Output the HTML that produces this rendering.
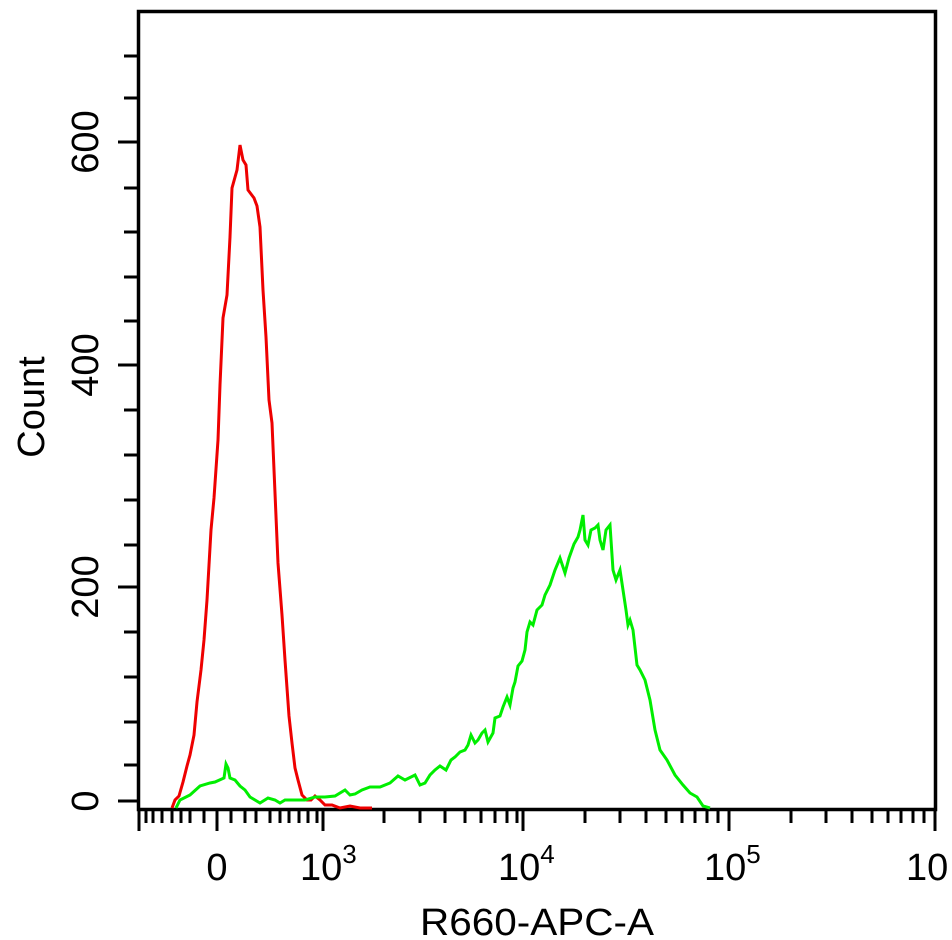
<!DOCTYPE html>
<html><head><meta charset="utf-8"><style>
html,body{margin:0;padding:0;background:#fff;width:952px;height:940px;overflow:hidden}
svg{display:block}
text{font-family:"Liberation Sans",sans-serif;fill:#000}
</style></head><body>
<svg width="952" height="940" viewBox="0 0 952 940" xmlns="http://www.w3.org/2000/svg">
<rect width="952" height="940" fill="#fff"/>
<path d="M138.5,11.5 H935.5 V809.5 H138.5 Z" fill="none" stroke="#000" stroke-width="3.5"/>
<g stroke="#000" stroke-width="3">
<line x1="118" y1="801" x2="138" y2="801"/>
<line x1="124" y1="765" x2="138" y2="765"/>
<line x1="124" y1="722" x2="138" y2="722"/>
<line x1="124" y1="677" x2="138" y2="677"/>
<line x1="124" y1="632" x2="138" y2="632"/>
<line x1="118" y1="587" x2="138" y2="587"/>
<line x1="124" y1="545" x2="138" y2="545"/>
<line x1="124" y1="500" x2="138" y2="500"/>
<line x1="124" y1="455" x2="138" y2="455"/>
<line x1="124" y1="410" x2="138" y2="410"/>
<line x1="118" y1="365" x2="138" y2="365"/>
<line x1="124" y1="321" x2="138" y2="321"/>
<line x1="124" y1="277" x2="138" y2="277"/>
<line x1="124" y1="232" x2="138" y2="232"/>
<line x1="124" y1="188" x2="138" y2="188"/>
<line x1="118" y1="142" x2="138" y2="142"/>
<line x1="124" y1="98" x2="138" y2="98"/>
<line x1="124" y1="56" x2="138" y2="56"/>
</g>
<g stroke="#000" stroke-width="3">
<line x1="139" y1="810" x2="139" y2="831"/>
<line x1="146" y1="810" x2="146" y2="823"/>
<line x1="153" y1="810" x2="153" y2="823"/>
<line x1="162" y1="810" x2="162" y2="823"/>
<line x1="172" y1="810" x2="172" y2="823"/>
<line x1="181" y1="810" x2="181" y2="823"/>
<line x1="190" y1="810" x2="190" y2="823"/>
<line x1="204" y1="810" x2="204" y2="823"/>
<line x1="217" y1="810" x2="217" y2="831"/>
<line x1="231" y1="810" x2="231" y2="823"/>
<line x1="245" y1="810" x2="245" y2="823"/>
<line x1="256" y1="810" x2="256" y2="823"/>
<line x1="270" y1="810" x2="270" y2="823"/>
<line x1="280" y1="810" x2="280" y2="823"/>
<line x1="289" y1="810" x2="289" y2="823"/>
<line x1="299" y1="810" x2="299" y2="823"/>
<line x1="308" y1="810" x2="308" y2="823"/>
<line x1="317" y1="810" x2="317" y2="823"/>
<line x1="323" y1="810" x2="323" y2="831"/>
<line x1="384" y1="810" x2="384" y2="823"/>
<line x1="420" y1="810" x2="420" y2="823"/>
<line x1="445" y1="810" x2="445" y2="823"/>
<line x1="465" y1="810" x2="465" y2="823"/>
<line x1="481" y1="810" x2="481" y2="823"/>
<line x1="495" y1="810" x2="495" y2="823"/>
<line x1="507" y1="810" x2="507" y2="823"/>
<line x1="517" y1="810" x2="517" y2="823"/>
<line x1="523" y1="810" x2="523" y2="831"/>
<line x1="585" y1="810" x2="585" y2="823"/>
<line x1="620" y1="810" x2="620" y2="823"/>
<line x1="646" y1="810" x2="646" y2="823"/>
<line x1="666" y1="810" x2="666" y2="823"/>
<line x1="682" y1="810" x2="682" y2="823"/>
<line x1="695" y1="810" x2="695" y2="823"/>
<line x1="707" y1="810" x2="707" y2="823"/>
<line x1="718" y1="810" x2="718" y2="823"/>
<line x1="729" y1="810" x2="729" y2="831"/>
<line x1="791" y1="810" x2="791" y2="823"/>
<line x1="826" y1="810" x2="826" y2="823"/>
<line x1="852" y1="810" x2="852" y2="823"/>
<line x1="872" y1="810" x2="872" y2="823"/>
<line x1="888" y1="810" x2="888" y2="823"/>
<line x1="901" y1="810" x2="901" y2="823"/>
<line x1="913" y1="810" x2="913" y2="823"/>
<line x1="924" y1="810" x2="924" y2="823"/>
<line x1="935" y1="810" x2="935" y2="831"/>
</g>
<g font-size="38">
<text transform="translate(98,801) rotate(-90)" text-anchor="middle">0</text>
<text transform="translate(98,587) rotate(-90)" text-anchor="middle">200</text>
<text transform="translate(98,365) rotate(-90)" text-anchor="middle">400</text>
<text transform="translate(98,142) rotate(-90)" text-anchor="middle">600</text>
<text transform="translate(44,407) rotate(-90)" text-anchor="middle">Count</text>
</g>
<g font-size="38">
<text x="217" y="880" text-anchor="middle">0</text>
<text x="300" y="880">10<tspan font-size="26" dy="-17">3</tspan></text>
<text x="498" y="880">10<tspan font-size="26" dy="-17">4</tspan></text>
<text x="704" y="880">10<tspan font-size="26" dy="-17">5</tspan></text>
<text x="906" y="880">10</text>
<text x="537" y="935" text-anchor="middle" textLength="234" lengthAdjust="spacingAndGlyphs">R660-APC-A</text>
</g>
<polyline fill="none" stroke="#ee0000" stroke-width="3" points="172,808 175,800 179,796 183,782 187,766 190,755 194,735 197,702 201,670 204,640 207,600 211,530 214,498 218,440 220,385 223,318 227,295 230,237 232,188 237,170 240,145 243,160 246,165 248,190 254,198 257,206 260,227 263,290 266,337 269,400 272,423 275,493 278,563 282,615 285,660 289,716 292,743 295,768 298,780 302,795 307,800 311,800 315,796 320,800 325,805 332,805 340,808 350,806 360,808 372,808"/>
<polyline fill="none" stroke="#00ee00" stroke-width="3" points="176,808 180,800 190,795 200,786 210,783 215,782 224,778 226,764 228,768 230,778 235,780 240,786 245,790 250,797 255,800 260,803 268,798 275,800 280,803 285,800 295,800 305,800 315,797 325,797 335,796 345,790 350,795 355,794 362,790 370,787 380,787 390,783 398,776 405,780 415,775 420,785 425,783 430,775 435,770 440,766 446,770 451,760 455,757 460,752 465,750 468,745 471,735 475,743 478,740 482,733 485,730 488,742 493,733 495,718 500,716 503,707 507,697 510,705 513,688 515,682 518,666 522,661 525,650 527,632 530,622 533,625 537,610 542,605 545,595 550,585 555,570 560,558 565,573 569,558 574,544 578,537 580,530 583,515 585,540 588,545 591,530 595,528 598,525 600,540 603,550 606,530 610,525 613,570 616,580 620,570 623,590 626,610 628,625 630,620 633,630 637,665 640,670 645,680 650,700 655,730 660,750 667,760 675,775 683,785 690,793 697,797 703,806 710,808"/>
</svg>
</body></html>
